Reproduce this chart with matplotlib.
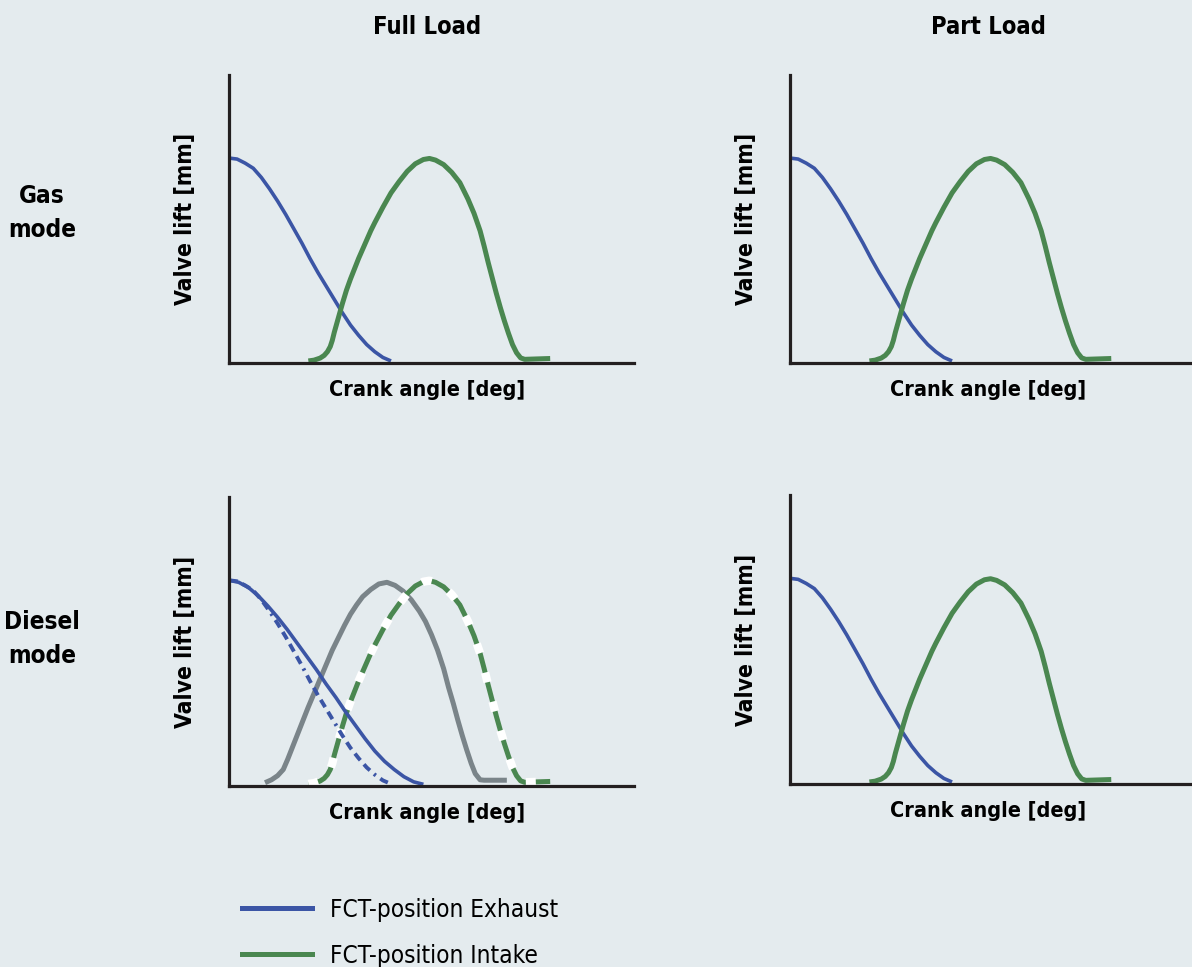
"""Valve lift vs crank angle for gas / diesel mode at full and part load (FCT positions)."""
import matplotlib

matplotlib.use("Agg")
import matplotlib.pyplot as plt
from matplotlib.lines import Line2D

plt.rcParams["font.family"] = ["DejaVu Sans"]
plt.rcParams["font.stretch"] = "condensed"

BG = "#e4ebee"
BLUE = "#3b55a5"
GREEN = "#4a8750"
GREY = "#7a8489"
INK = "#231f20"

COLUMNS = ["Full Load", "Part Load"]
ROWS = ["Gas\nmode", "Diesel\nmode"]
X_LABEL = "Crank angle [deg]"
Y_LABEL = "Valve lift [mm]"
LEGEND_LABELS = ["FCT-position Exhaust", "FCT-position Intake"]

# FCT-position exhaust valve lift
exhaust_x = [0, 2, 4, 6, 8, 10, 12, 14, 16, 18, 20, 22, 24, 26, 28, 30, 32, 34, 36, 38, 40]
exhaust_y = [1.0, 0.995, 0.975, 0.95, 0.905, 0.85, 0.79, 0.725, 0.655, 0.585, 0.51, 0.44,
             0.375, 0.31, 0.245, 0.185, 0.135, 0.09, 0.055, 0.027, 0.01]

# FCT-position intake valve lift
intake_x = [19.6, 21.0, 22.5, 23.5, 24.3, 25.0, 25.5, 26.0, 26.5, 27.0, 28.0, 29.0, 30.0,
            31.0, 32.0, 33.0, 34.0, 35.0, 36.0, 38.0, 40.0, 42.0, 44.0, 46.0, 48.0, 49.5,
            51.0, 53.0, 55.0, 57.0, 59.0, 60.5, 62.0, 63.0, 64.0, 65.0, 66.0, 67.0, 68.0,
            69.0, 70.0, 71.0, 72.0, 73.0, 79.3]
intake_y = [0.01, 0.014, 0.024, 0.037, 0.055, 0.08, 0.11, 0.15, 0.185, 0.22, 0.29, 0.355,
            0.41, 0.46, 0.51, 0.555, 0.60, 0.645, 0.685, 0.76, 0.83, 0.885, 0.935, 0.972,
            0.993, 0.998, 0.99, 0.968, 0.93, 0.88, 0.80, 0.73, 0.645, 0.57, 0.49, 0.415,
            0.34, 0.27, 0.205, 0.145, 0.09, 0.05, 0.025, 0.018, 0.022]

# Diesel mode full load: prolonged exhaust
diesel_exh_x = [0, 2.4, 4.8, 7.2, 9.6, 12.0, 14.4, 16.8, 19.2, 21.6, 24.0, 26.4, 28.8, 31.2,
                33.6, 36.0, 38.4, 40.8, 43.2, 45.6, 48.0]
diesel_exh_y = [1.0, 0.99, 0.965, 0.925, 0.875, 0.82, 0.76, 0.695, 0.63, 0.565, 0.495, 0.43,
                0.36, 0.295, 0.23, 0.17, 0.12, 0.08, 0.045, 0.02, 0.008]

# Diesel mode full load: advanced intake
diesel_int_x = [8.9, 10.5, 12.0, 13.4, 14.5, 15.6, 16.7, 18.0, 19.5, 21.0, 22.5, 24.0, 25.5,
                27.0, 28.5, 30.0, 31.5, 33.0, 35.0, 37.0, 39.0, 41.0, 43.0, 45.0, 47.0, 48.5,
                50.0, 51.5, 53.0, 54.2, 55.4, 56.5, 57.6, 58.7, 59.8, 60.8, 62.0, 63.0, 68.6]
diesel_int_y = [0.016, 0.03, 0.05, 0.08, 0.13, 0.185, 0.24, 0.305, 0.38, 0.45, 0.52, 0.59,
                0.66, 0.72, 0.78, 0.835, 0.88, 0.92, 0.955, 0.982, 0.99, 0.975, 0.947, 0.905,
                0.85, 0.80, 0.735, 0.66, 0.57, 0.48, 0.40, 0.32, 0.245, 0.175, 0.11, 0.06,
                0.03, 0.028, 0.028]

AXES_POS = {
    (0, 0): [0.1921, 0.6246, 0.3398, 0.2978],
    (0, 1): [0.6628, 0.6246, 0.3398, 0.2978],
    (1, 0): [0.1921, 0.1872, 0.3398, 0.2989],
    (1, 1): [0.6628, 0.1892, 0.3398, 0.2989],
}

LINE = dict(solid_joinstyle="round", solid_capstyle="butt")


def _style_axes(ax):
    ax.set_facecolor("none")
    ax.set_xlim(0, 100)
    ax.set_ylim(0, 1.405)
    ax.set_xticks([])
    ax.set_yticks([])
    for side in ("top", "right"):
        ax.spines[side].set_visible(False)
    for side in ("left", "bottom"):
        ax.spines[side].set_linewidth(2.3)
        ax.spines[side].set_color(INK)
    ax.set_xlabel(X_LABEL, fontsize=15.5, fontweight="bold", color="black", va="center")
    ax.set_ylabel(Y_LABEL, fontsize=16.5, fontweight="bold", color="black", va="center")
    ax.xaxis.set_label_coords(0.49, -0.093)
    ax.yaxis.set_label_coords(-0.108, 0.5)


def main() -> None:
    fig = plt.figure(figsize=(11.92, 9.67), dpi=100, facecolor=BG)

    for (r, c), pos in AXES_POS.items():
        ax = fig.add_axes(pos)
        _style_axes(ax)
        if (r, c) == (1, 0):
            ax.plot(diesel_int_x, diesel_int_y, color=GREY, lw=3.6, **LINE)
            ax.plot(intake_x, intake_y, color=GREEN, lw=3.6, **LINE)
            ax.plot(intake_x, intake_y, color="white", lw=6.0,
                    linestyle=(0, (1.2, 2.4)), dash_capstyle="butt")
            ax.plot(exhaust_x, exhaust_y, color=BLUE, lw=2.8,
                    linestyle=(0, (2.2, 1.4, 2.2, 1.4, 2.2, 1.4, 2.2, 1.4, 0.6, 1.4)),
                    dash_capstyle="butt")
            ax.plot(diesel_exh_x, diesel_exh_y, color=BLUE, lw=2.6, **LINE)
        else:
            ax.plot(exhaust_x, exhaust_y, color=BLUE, lw=2.6, **LINE)
            ax.plot(intake_x, intake_y, color=GREEN, lw=3.6, **LINE)

    # column and row headers
    for c, title in enumerate(COLUMNS):
        x = AXES_POS[(0, c)][0] + 0.49 * AXES_POS[(0, c)][2]
        fig.text(x, 1 - 27 / 967, title, fontsize=17, fontweight="bold",
                 ha="center", va="center")
    for r, label in enumerate(ROWS):
        y = 1 - (213 if r == 0 else 639) / 967
        fig.text(42 / 1192, y, label, fontsize=17.5, fontweight="bold",
                 ha="center", va="center", linespacing=1.5)

    handles = [Line2D([], [], color=BLUE, lw=3.6), Line2D([], [], color=GREEN, lw=3.6)]
    fig.legend(handles, LEGEND_LABELS, loc="upper left",
               bbox_to_anchor=(242 / 1192, 1 - 898 / 967), frameon=False,
               fontsize=17.5, handlelength=2.9, handletextpad=0.7, labelspacing=0.9,
               borderaxespad=0, borderpad=0)

    fig.savefig("out.png", dpi=100, facecolor=BG)
    plt.close(fig)


if __name__ == "__main__":
    main()
